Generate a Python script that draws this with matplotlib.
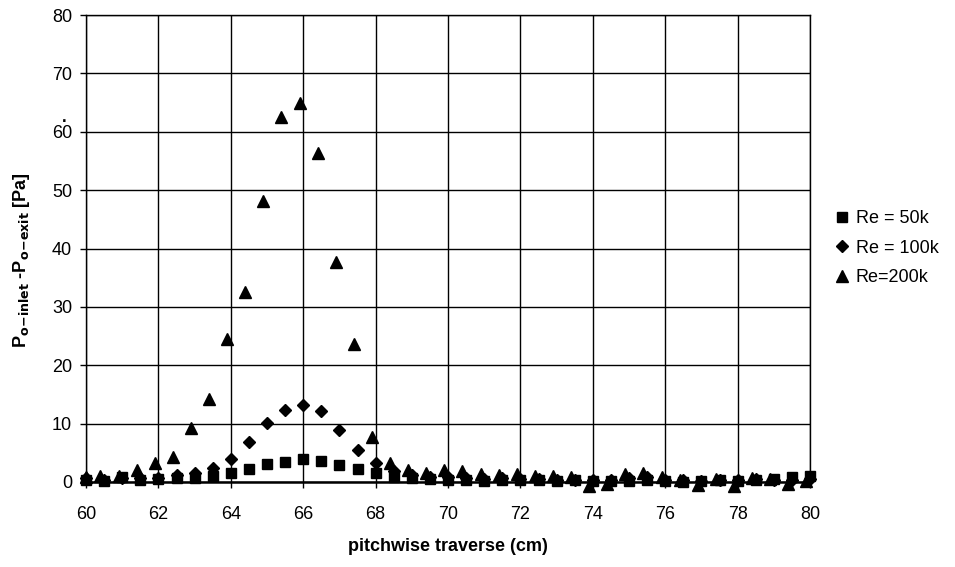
import matplotlib
matplotlib.use("Agg")
import matplotlib.pyplot as plt

plt.rcParams['font.family'] = ['Liberation Sans', 'DejaVu Sans']

x_50k = [60.0, 60.5, 61.0, 61.5, 62.0, 62.5, 63.0, 63.5, 64.0, 64.5, 65.0, 65.5, 66.0, 66.5, 67.0,
         67.5, 68.0, 68.5, 69.0, 69.5, 70.0, 70.5, 71.0, 71.5, 72.0, 72.5, 73.0, 73.5, 74.0, 74.5,
         75.0, 75.5, 76.0, 76.5, 77.0, 77.5, 78.0, 78.5, 79.0, 79.5, 80.0]
re_50k = [0.3, 0.2, 0.8, 0.4, 0.5, 0.6, 0.7, 1.0, 1.6, 2.3, 3.0, 3.4, 3.9, 3.6, 2.9,
          2.3, 1.5, 0.9, 0.6, 0.5, 0.4, 0.3, 0.2, 0.3, 0.3, 0.4, 0.2, 0.3, 0.2, 0.1,
          0.2, 0.3, 0.1, 0.0, 0.1, 0.3, 0.2, 0.4, 0.5, 0.9, 1.1]

x_100k = x_50k
re_100k = [0.6, 0.4, 0.7, 0.6, 0.7, 1.2, 1.6, 2.4, 3.9, 6.8, 10.1, 12.4, 13.2, 12.2, 8.9,
           5.5, 3.2, 1.8, 1.2, 0.9, 0.8, 0.6, 0.5, 0.6, 0.5, 0.5, 0.4, 0.4, 0.3, 0.4,
           0.6, 0.8, 0.4, 0.3, 0.2, 0.4, 0.3, 0.5, 0.4, 0.3, 0.5]

x_200k = [60.0, 60.4, 60.9, 61.4, 61.9, 62.4, 62.9, 63.4, 63.9, 64.4, 64.9, 65.4, 65.9, 66.4, 66.9,
          67.4, 67.9, 68.4, 68.9, 69.4, 69.9, 70.4, 70.9, 71.4, 71.9, 72.4, 72.9, 73.4, 73.9, 74.4,
          74.9, 75.4, 75.9, 76.4, 76.9, 77.4, 77.9, 78.4, 78.9, 79.4, 79.9]
re_200k = [0.8, 1.0, 1.0, 2.0, 3.2, 4.2, 9.3, 14.2, 24.5, 32.6, 48.1, 62.5, 64.9, 56.4, 37.7,
           23.6, 7.7, 3.2, 2.0, 1.6, 2.0, 1.8, 1.3, 1.2, 1.4, 1.1, 1.0, 0.9, -0.6, -0.3,
           1.3, 1.5, 0.8, 0.3, -0.5, 0.5, -0.6, 0.6, 0.5, -0.3, 0.2]

x_ticks = [60, 62, 64, 66, 68, 70, 72, 74, 76, 78, 80]
y_ticks = [0, 10, 20, 30, 40, 50, 60, 70, 80]

W, H = 955, 567
fig = plt.figure(figsize=(W / 100, H / 100), dpi=100)
ax = fig.add_axes([86 / W, 1 - 482 / H, 724 / W, 467 / H])

ax.plot(x_50k, re_50k, 's', color='black', markersize=7, label='Re = 50k', clip_on=False, zorder=3)
ax.plot(x_100k, re_100k, 'D', color='black', markersize=6.5, label='Re = 100k', clip_on=False, zorder=3)
ax.plot(x_200k, re_200k, '^', color='black', markersize=8.5, label='Re=200k', clip_on=False, zorder=3)

ax.set_xlim(60, 80)
ax.set_ylim(0, 80)
ax.set_xticks(x_ticks)
ax.set_yticks(y_ticks)
ax.grid(True, color='black', linewidth=1.0)
ax.set_axisbelow(True)
for s in ax.spines.values():
    s.set_linewidth(1.0)
ax.spines['bottom'].set_linewidth(1.8)
ax.tick_params(axis='x', direction='out', length=4, width=1, labelsize=13, pad=13)
ax.tick_params(axis='y', direction='out', length=4, width=1, labelsize=13, pad=6)

ax.set_xlabel('pitchwise traverse (cm)', fontsize=13, fontweight='bold', labelpad=11)
fig.text(22 / W, 1 - 260 / H,
         r'P$_{\mathbf{o\!-\!inlet}}$ -P$_{\mathbf{o\!-\!exit}}$ [Pa]',
         rotation=90, ha='center', va='center', fontsize=13, fontweight='bold')
fig.text(62 / W, 1 - 122 / H, '.', fontsize=12, fontweight='bold')

leg = fig.legend(loc='upper left', bbox_to_anchor=(834 / W, 1 - 210 / H), frameon=False,
                 fontsize=13, handletextpad=0.3, labelspacing=0.7, handlelength=0.9,
                 borderpad=0, borderaxespad=0)

fig.savefig('out.png', dpi=100)
